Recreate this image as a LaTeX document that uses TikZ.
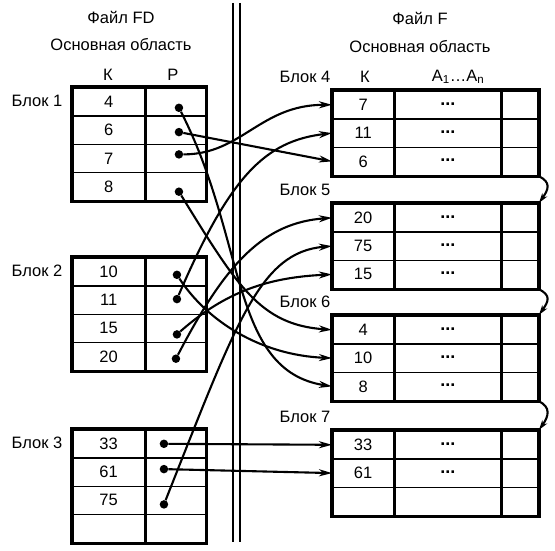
\documentclass[tikz,border=0pt]{standalone}
\usepackage{fontspec}
\setmainfont{Liberation Sans}
\usetikzlibrary{arrows.meta,positioning}

\tikzset{
  cell/.style={draw,line width=1.3pt,minimum height=28.3pt,inner sep=0pt,anchor=north west},
  frame/.style={line width=3.2pt},
  ptr/.style={circle,fill,inner sep=0pt,minimum size=8.5pt},
  link/.style={line width=2.1pt,-{Stealth[length=13pt,width=7pt,inset=4pt]}},
  chain/.style={line width=2.1pt,-{Stealth[length=10pt,width=6pt,inset=3pt]}},
}

\begin{document}
\begin{tikzpicture}[x=1pt,y=-1pt,font=\fontsize{16.5}{19}\selectfont]
\useasboundingbox (0,0) rectangle (555,551);
% headings
\node (fdtitle) at (121,17) {Файл FD};
\node (fdarea) at (121,45) {Основная область};
\node (fdk) at (108,75) {К};
\node (fdp) at (173,75) {Р};
\node (ftitle) at (420,18) {Файл F};
\node (farea) at (420,47) {Основная область};
\node (fk) at (365,77) {К};
\node (fa) at (458,77) {A\textsubscript{1}\ldots A\textsubscript{n}};
% separator
\draw[line width=2pt] (233,3) -- (233,542);
\draw[line width=2pt] (239.5,3) -- (239.5,542);
% index blocks
\foreach \b/\y/\keys in {1/87/{4,6,7,8},2/257/{10,11,15,20},3/429/{33,61,75,{}}} {
  \node (lb\b) at (37,{\y+14}) {Блок \b};
  \foreach \k [count=\i] in \keys {
    \node[cell,minimum width=72pt] (l\b-\i) at (72,{\y+28.3*(\i-1)}) {\k};
    \node[cell,minimum width=60pt,right=0pt of l\b-\i] (p\b-\i) {};
  }
  \draw[frame] (l\b-1.north west) rectangle (p\b-4.south east);
}
% main blocks
\foreach \b/\y/\keys in {4/90/{7,11,6},5/203/{20,75,15},6/315/{4,10,8},7/430/{33,61,{}}} {
  \node (rb\b) at (305,{\y-13}) {Блок \b};
  \foreach \k [count=\i] in \keys {
    \node[cell,minimum width=61pt] (r\b-\i) at (332,{\y+28.3*(\i-1)}) {\k};
    \node[cell,minimum width=106pt,right=0pt of r\b-\i] (d\b-\i) {};
    \node[cell,minimum width=36pt,right=0pt of d\b-\i] (e\b-\i) {};
  }
  \draw[frame] (r\b-1.north west) rectangle (e\b-3.south east);
}
\foreach \b/\n in {4/3,5/3,6/3,7/2}
  \foreach \i in {1,...,\n}
    \node[font=\fontsize{18}{20}\selectfont\bfseries] (t\b-\i) at ([yshift=1pt]d\b-\i) {...};
% pointers
\foreach \b/\i/\dx/\dy in {1/1/3/6,1/2/3/2,1/3/3/-4,1/4/3/5,2/1/1/3,2/2/1/-1,2/3/1/6,2/4/0/2,3/1/-12/0,3/2/-12/-3,3/3/-12/4}
  \node[ptr] (q\b-\i) at ([shift={(\dx,\dy)}]p\b-\i.center) {};
\draw[link] (q1-1) .. controls +(68,133) and +(-102,-16) .. (r6-3.west);
\draw[link] (q1-2) -- (r4-3.west);
\draw[link] (q1-3) .. controls +(63,0) and +(-72,0) .. (r4-1.west);
\draw[link] (q1-4) .. controls +(58,94) and +(-72,-5) .. (r6-1.west);
\draw[link] (q2-1) .. controls +(30,46) and +(-72,-3) .. (r6-2.west);
\draw[link] (q2-2) .. controls +(53,-123) and +(-67,8) .. (r4-2.west);
\draw[link] (q2-3) .. controls +(50,-44) and +(-62,3) .. (r5-3.west);
\draw[link] (q2-4) .. controls +(51,-98) and +(-67,5) .. (r5-1.west);
\draw[link] (q3-3) .. controls +(73,-184) and +(-72,6) .. (r5-2.west);
\draw[link] (q3-1) -- (r7-1.west);
\draw[link] (q3-2) -- (r7-2.west);
% overflow chain
\foreach \a/\c in {4/5,5/6,6/7}
  \draw[chain] (e\a-3.south east) .. controls +(12,6) and +(10,-14) .. (e\c-1.north east);
\end{tikzpicture}
\end{document}
